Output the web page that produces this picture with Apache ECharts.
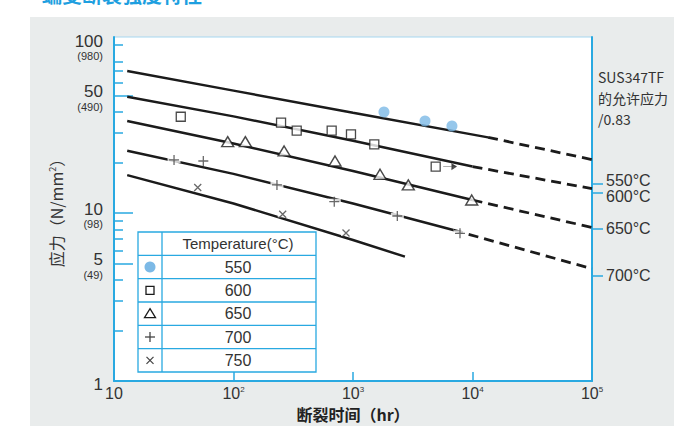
<!DOCTYPE html>
<html>
<head>
<meta charset="utf-8">
<script src="https://cdn.jsdelivr.net/npm/echarts@6/dist/echarts.min.js"></script>
<style>
  html, body { margin: 0; padding: 0; background: #fff; }
  #wrap { position: relative; width: 674px; height: 426px; overflow: hidden; }
  #panel { position: absolute; left: 30px; top: 17px; right: 0; bottom: 0; background: #e9ecec; }
  #chart { position: absolute; left: 0; top: 0; width: 674px; height: 426px; }
</style>
</head>
<body>
<div id="wrap"><div id="panel"></div><div id="chart"></div></div>
<script>
// ---- data -------------------------------------------------------------
const temps = ['550', '600', '650', '700', '750'];

// rupture test results: [time to rupture (hr), stress (N/mm²)]
const pts550 = [[1816, 39.9], [4006, 35.3], [6730, 33.0]];
const pts600 = [[36.2, 37.4], [250, 34.5], [338, 30.9], [663, 30.9], [962, 29.4], [1507, 25.6], [4920, 18.9]];
const pts650 = [[89.4, 26.6], [125.6, 26.6], [265, 23.4], [707, 20.4], [1683, 17.0], [2902, 14.7], [9848, 11.95]];
const pts700 = [[31.8, 20.7], [55.9, 20.4], [231, 14.7], [697, 11.68], [2349, 9.6], [7857, 7.57]];
const pts750 = [[50.2, 14.2], [258, 9.82], [874, 7.6]];
// specimen still running at 600 °C
const running600 = [[4920, 18.9]];

// rupture curves: fitted range (solid) and extrapolation (dashed)
const fit550 = [[12.9, 70.0], [100, 53.5], [1000, 39.5], [13500, 28.2]];
const ext550 = [[13500, 28.2], [100000, 20.8]];
const fit600 = [[12.9, 49.2], [100, 37.6], [1000, 26.9], [10000, 18.9]];
const ext600 = [[10000, 18.9], [100000, 13.96]];
const fit650 = [[12.9, 35.3], [100, 25.9], [1000, 17.8], [10000, 11.95]];
const ext650 = [[10000, 11.95], [100000, 8.2]];
const fit700 = [[12.9, 23.5], [100, 17.1], [1000, 11.4], [6900, 7.92]];
const ext700 = [[6900, 7.92], [100000, 4.66]];
const fit750 = [[12.9, 16.8], [100, 11.4], [1000, 6.91], [2720, 5.5]];

// SUS347TF allowable stress / 0.83
const allowTemps = ['550°C', '600°C', '650°C', '700°C'];
const allowStress = [15.0, 13.2, 8.1, 4.24];

// axis ticks and labels
const yLabelValues = [1, 5, 10, 50, 100];
const yLabelAlt = ['', '(49)', '(98)', '(490)', '(980)'];
const yLongTicks = [5, 10, 50];
const yShortTicks = [2, 3, 4, 6, 7, 8, 9, 20, 30, 40, 60, 70, 80, 100];
const xMin = 10, xMax = 100000;
const yMin = 1, yTop = 111.6;

// ---- styles -----------------------------------------------------------
const BLUE = '#29a9e1';
const INK = '#1b1b1b';
const TXT = '#333';
const NARROW = '"Liberation Sans Narrow", "Arial Narrow", "Liberation Sans", Arial, sans-serif';
const CJK = '"Noto Sans CJK SC", "Liberation Sans", sans-serif';

const PLUS = 'path://M5,0L5,10M0,5L10,5';
const CROSS = 'path://M0,0L10,10M10,0L0,10';
const ARROW = 'path://M0,3L13,3M9,1L13,3L9,5Z';

function idxOf(list, v) {
  let best = 0, d = Infinity;
  list.forEach((t, i) => { const e = Math.abs(Math.log(t) - Math.log(v)); if (e < d) { d = e; best = i; } });
  return best;
}

function curve(data, dashed) {
  return {
    type: 'line', data, symbol: 'none', silent: true, z: 2,
    lineStyle: { color: INK, width: dashed ? 2.8 : 2.5, type: dashed ? [10, 6] : 'solid', cap: 'butt' }
  };
}
function marks(data, symbol, size, itemStyle, z) {
  return { type: 'scatter', data, symbol, symbolSize: size, itemStyle, z: z || 4, silent: true };
}

const series = [
  curve(fit550), curve(ext550, true),
  curve(fit600), curve(ext600, true),
  curve(fit650), curve(ext650, true),
  curve(fit700), curve(ext700, true),
  curve(fit750),
  // white gaps where the lines pass the thin markers
  marks(pts700, 'rect', [13, 6], { color: '#fff' }, 3),
  marks(pts750, 'rect', [10, 6], { color: '#fff' }, 3),
  marks(pts550, 'circle', 11, { color: '#7cb9e6' }),
  marks(pts600, 'rect', 9, { color: '#fff', borderColor: INK, borderWidth: 1.3 }),
  marks(pts650, 'triangle', [12, 10], { color: '#fff', borderColor: INK, borderWidth: 1.4 }),
  marks(pts700, PLUS, 10, { color: 'rgba(0,0,0,0)', borderColor: '#444', borderWidth: 1.3 }),
  marks(pts750, CROSS, 7, { color: 'rgba(0,0,0,0)', borderColor: '#444', borderWidth: 1.3 }),
  Object.assign(marks(running600, ARROW, [13, 5], { color: '#333', borderColor: '#333', borderWidth: 1 }), { symbolOffset: [14, 0] })
];

// ---- legend table -----------------------------------------------------
const TBL = { x: 138, y: 232, w: 178, h: 140, col: 24 };
const rowH = TBL.h / (temps.length + 1);
const legendShapes = [];
legendShapes.push({ type: 'rect', shape: { x: TBL.x, y: TBL.y, width: TBL.w, height: TBL.h }, style: { fill: '#fff', stroke: BLUE, lineWidth: 1.3 }, z: 10 });
legendShapes.push({ type: 'line', shape: { x1: TBL.x + TBL.col, y1: TBL.y, x2: TBL.x + TBL.col, y2: TBL.y + TBL.h }, style: { stroke: BLUE, lineWidth: 1.3 }, z: 11 });
for (let i = 1; i <= temps.length; i++) {
  const y = TBL.y + rowH * i;
  legendShapes.push({ type: 'line', shape: { x1: TBL.x, y1: y, x2: TBL.x + TBL.w, y2: y }, style: { stroke: BLUE, lineWidth: 1.3 }, z: 11 });
}
const textX = TBL.x + TBL.col + (TBL.w - TBL.col) / 2 - 1;
legendShapes.push({
  type: 'text', z: 12,
  style: { text: 'Temperature(°C)', x: textX, y: TBL.y + rowH / 2, align: 'center', verticalAlign: 'middle',
           textAlign: 'center', textVerticalAlign: 'middle', fontSize: 15, fontFamily: NARROW, fill: TXT }
});
temps.forEach((t, i) => {
  const cy = TBL.y + rowH * (i + 1.5);
  const cx = TBL.x + TBL.col / 2;
  legendShapes.push({
    type: 'text', z: 12,
    style: { text: t, x: textX, y: cy, align: 'center', verticalAlign: 'middle',
             textAlign: 'center', textVerticalAlign: 'middle', fontSize: 16, fontFamily: NARROW, fill: TXT }
  });
  const st = { fill: '#fff', stroke: INK, lineWidth: 1.3 };
  if (i === 0) legendShapes.push({ type: 'circle', z: 12, shape: { cx, cy, r: 5.5 }, style: { fill: '#7cb9e6' } });
  if (i === 1) legendShapes.push({ type: 'rect', z: 12, shape: { x: cx - 4, y: cy - 4, width: 8, height: 8 }, style: st });
  if (i === 2) legendShapes.push({ type: 'polygon', z: 12, shape: { points: [[cx, cy - 5], [cx + 5.5, cy + 4], [cx - 5.5, cy + 4]] }, style: st });
  if (i === 3) {
    legendShapes.push({ type: 'line', z: 12, shape: { x1: cx - 5, y1: cy, x2: cx + 5, y2: cy }, style: { stroke: '#444', lineWidth: 1.3 } });
    legendShapes.push({ type: 'line', z: 12, shape: { x1: cx, y1: cy - 5, x2: cx, y2: cy + 5 }, style: { stroke: '#444', lineWidth: 1.3 } });
  }
  if (i === 4) {
    legendShapes.push({ type: 'line', z: 12, shape: { x1: cx - 3.5, y1: cy - 3.5, x2: cx + 3.5, y2: cy + 3.5 }, style: { stroke: '#444', lineWidth: 1.2 } });
    legendShapes.push({ type: 'line', z: 12, shape: { x1: cx + 3.5, y1: cy - 3.5, x2: cx - 3.5, y2: cy + 3.5 }, style: { stroke: '#444', lineWidth: 1.2 } });
  }
});

const graphics = [
  { type: 'text', z: 20,
    style: { text: '蠕变断裂强度特性', x: 42, y: 4, align: 'left', verticalAlign: 'bottom',
             textAlign: 'left', textVerticalAlign: 'bottom', fontSize: 20, fontWeight: 'bold', fontFamily: CJK, fill: '#1e9fe0' } },
  { type: 'text', z: 20,
    style: { text: 'SUS347TF\n的允许应力\n/0.83', x: 598, y: 67, align: 'left', verticalAlign: 'top',
             textAlign: 'left', textVerticalAlign: 'top', fontSize: 14, lineHeight: 20.7, fontFamily: CJK, fill: TXT } }
].concat(legendShapes);

// right-hand axis: tick marks for every allowable stress, labels split over two axes
function rightAxis(labelIdx, showLine) {
  return {
    type: 'log', logBase: 10, min: yMin, max: yTop, position: 'right',
    axisLine: { show: showLine, lineStyle: { color: BLUE, width: 2 } },
    axisTick: { show: showLine, inside: false, length: 11, customValues: allowStress, lineStyle: { color: BLUE, width: 1.5 } },
    minorTick: { show: false },
    splitLine: { show: false },
    axisLabel: {
      customValues: labelIdx.map(i => allowStress[i]), margin: 14, align: 'left', hideOverlap: false,
      formatter: v => {
        const i = idxOf(allowStress, v);
        const key = i === 0 ? 'u' : (i === 1 ? 'd' : 'n');
        return '{' + key + '|' + allowTemps[i] + '}';
      },
      rich: {
        n: { fontSize: 16, fontFamily: NARROW, color: TXT },
        u: { fontSize: 16, fontFamily: NARROW, color: TXT, padding: [0, 0, 6, 0] },
        d: { fontSize: 16, fontFamily: NARROW, color: TXT, padding: [8, 0, 0, 0] }
      }
    }
  };
}

// ---- axes -------------------------------------------------------------
const option = {
  animation: false,
  backgroundColor: 'transparent',
  grid: { left: 114, right: 82, top: 37, bottom: 45, show: true, backgroundColor: '#fff',
          borderColor: '#a6d7f0', borderWidth: 1, containLabel: false, outerBoundsMode: 'none' },
  xAxis: {
    type: 'log', logBase: 10, min: xMin, max: xMax,
    axisLine: { show: true, lineStyle: { color: BLUE, width: 2 } },
    axisTick: { show: true, inside: true, length: 9, lineStyle: { color: BLUE, width: 1.5 } },
    minorTick: { show: false },
    splitLine: { show: false },
    axisLabel: {
      margin: 4, color: TXT, fontSize: 16, fontFamily: NARROW, hideOverlap: false,
      formatter: v => {
        const n = Math.round(Math.log10(v));
        return n === 1 ? '{m|10}' : '{m|10}{s|' + n + '}';
      },
      rich: {
        m: { fontSize: 16, lineHeight: 16, fontFamily: NARROW, color: TXT },
        s: { fontSize: 8, lineHeight: 16, verticalAlign: 'top', fontFamily: NARROW, color: TXT }
      }
    },
    name: '断裂时间（hr）', nameLocation: 'middle', nameGap: 22,
    nameTextStyle: { fontSize: 16, fontWeight: 'bold', color: '#222', fontFamily: CJK }
  },
  yAxis: [
    {
      type: 'log', logBase: 10, min: yMin, max: yTop, position: 'left',
      axisLine: { show: true, lineStyle: { color: BLUE, width: 2 } },
      axisTick: { show: true, inside: true, length: 19, customValues: yLongTicks, lineStyle: { color: BLUE, width: 1.5 } },
      minorTick: { show: false },
      splitLine: { show: false },
      axisLabel: {
        customValues: yLabelValues, margin: 11, align: 'right', verticalAlign: 'middle', padding: [7, 0, 0, 0], hideOverlap: false,
        formatter: v => {
          const i = idxOf(yLabelValues, v);
          return yLabelAlt[i] ? '{m|' + yLabelValues[i] + '}\n{p|' + yLabelAlt[i] + '}' : '{m|' + yLabelValues[i] + '}';
        },
        rich: {
          m: { fontSize: 17, lineHeight: 15, fontFamily: NARROW, color: TXT, align: 'right' },
          p: { fontSize: 11, lineHeight: 15, fontFamily: NARROW, color: TXT, align: 'right' }
        }
      },
      name: '应力（N/mm{s|2}）', nameLocation: 'middle', nameRotate: 90, nameGap: 49,
      nameTextStyle: {
        fontSize: 16, color: TXT, fontFamily: CJK,
        rich: { s: { fontSize: 9, verticalAlign: 'top', lineHeight: 16, fontFamily: CJK, color: TXT } }
      }
    },
    {
      type: 'log', logBase: 10, min: yMin, max: yTop, position: 'left',
      axisLine: { show: false },
      axisTick: { show: true, inside: true, length: 9, customValues: yShortTicks, lineStyle: { color: BLUE, width: 1.5 } },
      axisLabel: { show: false },
      minorTick: { show: false },
      splitLine: { show: false }
    },
    rightAxis([1, 2, 3], true),
    rightAxis([0], false)
  ],
  series,
  graphic: graphics
};

const chart = echarts.init(document.getElementById('chart'), null, { renderer: 'svg', width: 674, height: 426 });
chart.setOption(option);
</script>
</body>
</html>
